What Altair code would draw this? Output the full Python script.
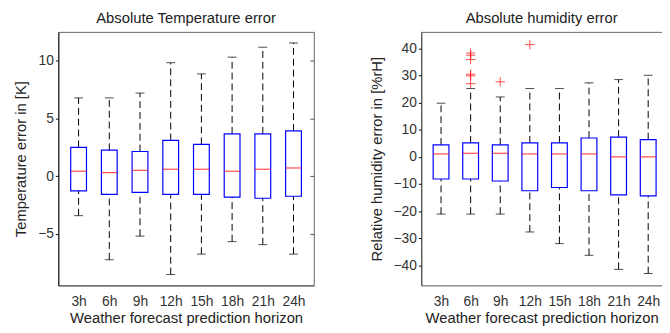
import altair as alt
import pandas as pd

labels = ["3h", "6h", "9h", "12h", "15h", "18h", "21h", "24h"]

# Temperature error box statistics [K]
t_upper = [6.78, 6.78, 7.2, 9.83, 8.86, 10.31, 11.17, 11.54]
t_q3 = [2.5, 2.25, 2.14, 3.1, 2.76, 3.67, 3.67, 3.93]
t_med = [0.43, 0.31, 0.51, 0.6, 0.6, 0.43, 0.6, 0.71]
t_q1 = [-1.28, -1.57, -1.4, -1.57, -1.57, -1.82, -1.91, -1.74]
t_lower = [-3.42, -7.24, -5.19, -8.52, -6.75, -5.67, -5.93, -6.75]

# Humidity error box statistics [%rH]
h_upper = [19.8, 25.2, 22.1, 25.2, 25.2, 27.3, 28.5, 30.1]
h_q3 = [4.44, 5.16, 4.44, 5.16, 5.16, 6.96, 7.3, 6.36]
h_med = [1.08, 1.32, 1.32, 1.08, 1.08, 1.08, 0.0, 0.0]
h_q1 = [-8.16, -8.16, -8.9, -12.5, -11.3, -12.5, -14.0, -14.4]
h_lower = [-21.1, -21.1, -21.1, -27.7, -32.0, -36.3, -41.5, -43.0]

# Humidity outliers
h_out_label = ["6h", "6h", "6h", "6h", "6h", "6h", "9h", "12h"]
h_out_value = [38.3, 37.5, 35.9, 30.5, 29.9, 27.0, 27.7, 41.4]

FONT = "Liberation Sans"
label_expr = "[" + ",".join(f"'{l}'" for l in labels) + "][datum.value - 1]"
FRAME = "#666"


def box_panel(upper, q3, med, q1, lower, out_lab, out_val, title, ytitle,
              ydomain, yticks, width, xmax, full_frame):
    df = pd.DataFrame({
        "pos": list(range(1, len(labels) + 1)),
        "label": labels,
        "upper": upper, "q3": q3, "med": med, "q1": q1, "lower": lower,
    })
    xscale = alt.Scale(domain=[0.5, xmax], nice=False, zero=False)
    x = alt.X("pos:Q", scale=xscale,
              axis=alt.Axis(values=list(range(1, 9)), labelExpr=label_expr, tickSize=0,
                            domain=True, domainColor="#555", grid=False,
                            title="Weather forecast prediction horizon",
                            labelPadding=9, titlePadding=3))
    yscale = alt.Scale(domain=ydomain, nice=False, zero=False)
    yaxis = alt.Axis(values=yticks, grid=False, title=ytitle, tickSize=3, tickColor="#111",
                     domainColor="#111", labelPadding=2, titlePadding=9)
    base = alt.Chart(df)
    dash = [7, 4]
    whisk_hi = base.mark_rule(color="black", strokeDash=dash, strokeWidth=1).encode(
        x=x, y=alt.Y("q3:Q", scale=yscale, axis=yaxis), y2="upper:Q")
    whisk_lo = base.mark_rule(color="black", strokeDash=dash, strokeWidth=1).encode(
        x=x, y=alt.Y("lower:Q", scale=yscale, axis=yaxis), y2="q1:Q")
    cap_hi = base.mark_tick(color="black", orient="horizontal", size=9, thickness=1).encode(
        x=x, y=alt.Y("upper:Q", scale=yscale, axis=yaxis))
    cap_lo = base.mark_tick(color="black", orient="horizontal", size=9, thickness=1).encode(
        x=x, y=alt.Y("lower:Q", scale=yscale, axis=yaxis))
    box = base.mark_bar(size=16, fill="white", fillOpacity=0, stroke="#0000ff",
                        strokeWidth=1.2).encode(
        x=x, y=alt.Y("q1:Q", scale=yscale, axis=yaxis), y2="q3:Q")
    median = base.mark_tick(color="#ff0000", orient="horizontal", size=16, thickness=1.2).encode(
        x=x, y=alt.Y("med:Q", scale=yscale, axis=yaxis))
    layers = [whisk_hi, whisk_lo, cap_hi, cap_lo, box, median]
    if out_lab:
        odf = pd.DataFrame({"pos": [labels.index(l) + 1 for l in out_lab], "val": out_val})
        outl = alt.Chart(odf).mark_point(shape="M-1,0L1,0M0,-1L0,1", stroke="#ff0000",
                                         filled=False, size=90, strokeWidth=1).encode(
            x=x, y=alt.Y("val:Q", scale=yscale, axis=yaxis))
        layers.append(outl)
    main = alt.layer(*layers)
    if full_frame:
        # inward ticks on the right border
        extra = alt.Chart(pd.DataFrame({"v": yticks})).mark_point(opacity=0).encode(
            y=alt.Y("v:Q", scale=yscale,
                    axis=alt.Axis(orient="right", values=yticks, labels=False, domain=False,
                                  tickSize=4, offset=-4, tickColor="#555", title=None,
                                  grid=False)))
        chart = alt.layer(main, extra).resolve_axis(y="independent")
        view = alt.ViewBackground(stroke=FRAME, strokeWidth=1)
    else:
        # top frame line only (right edge lies outside the picture)
        extra = alt.Chart(pd.DataFrame({"p": [1]})).mark_point(opacity=0).encode(
            x=alt.X("p:Q", scale=xscale,
                    axis=alt.Axis(orient="top", labels=False, ticks=False, domain=True,
                                  domainColor=FRAME, title=None, grid=False)))
        chart = alt.layer(main, extra).resolve_axis(x="independent")
        view = alt.ViewBackground(stroke="transparent", strokeWidth=0)
    return chart.properties(
        width=width, height=257, view=view,
        title=alt.TitleParams(title, fontSize=15, font=FONT, fontWeight="normal",
                              color="#222", offset=6, anchor="middle"))


left = box_panel(t_upper, t_q3, t_med, t_q1, t_lower, [], [],
                 "Absolute Temperature error", "Temperature error in [K]",
                 [-9.46, 12.5], [-5, 0, 5, 10], 259, 8.5, True)
right = box_panel(h_upper, h_q3, h_med, h_q1, h_lower, h_out_label, h_out_value,
                  "Absolute humidity error", "Relative humidity error in [%rH]",
                  [-47.4, 46.1], [-40, -30, -20, -10, 0, 10, 20, 30, 40], 244, 8.3, False)

chart = alt.hconcat(left, right, spacing=109, bounds="flush").configure_axis(
    labelFont=FONT, titleFont=FONT, labelFontSize=14, titleFontSize=15,
    labelColor="#333", titleColor="#222", titleFontWeight="normal"
).properties(background="white", padding={"left": 5, "top": 0, "right": 0, "bottom": 0})

chart.save("out.html", embed_options={"renderer": "svg", "actions": False})
